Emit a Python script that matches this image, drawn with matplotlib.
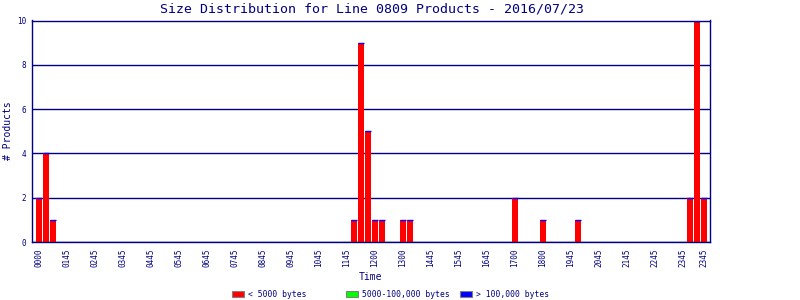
import matplotlib
matplotlib.use("Agg")
import matplotlib.pyplot as plt
from matplotlib.patches import Patch
import numpy as np

# ---- data ----
slot_index = [0, 1, 2, 45, 46, 47, 48, 49, 52, 53, 68, 72, 77, 93, 94, 95]
small_counts = [2, 4, 1, 1, 9, 5, 1, 1, 1, 1, 2, 1, 1, 2, 10, 2]   # < 5000 bytes
medium_counts = [0] * 16                                            # 5000-100,000 bytes
large_counts = [0] * 16                                             # > 100,000 bytes
n_slots = 96
tick_slots = [0, 4, 8, 12, 16, 20, 24, 28, 32, 36, 40, 44, 48, 52, 56, 60,
              64, 68, 72, 76, 80, 84, 88, 92, 95]
tick_labels = ["0000", "0145", "0245", "0345", "0445", "0545", "0645", "0745",
               "0845", "0945", "1045", "1145", "1200", "1300", "1445", "1545",
               "1645", "1700", "1800", "1945", "2045", "2145", "2245", "2345",
               "2345"]
yticks = [0, 2, 4, 6, 8, 10]
series_names = ["< 5000 bytes", "5000-100,000 bytes", "> 100,000 bytes"]
series_colors = ["#FF0000", "#00FF00", "#0000FF"]
title = "Size Distribution for Line 0809 Products - 2016/07/23"

NAVY = "#000080"
MONO = "DejaVu Sans Mono"

fig = plt.figure(figsize=(8, 3), dpi=100)
ax = fig.add_axes([32/800, 58/300, 678/800, 221.5/300])

x = np.array(slot_index)
s = np.array(small_counts, dtype=float)
m = np.array(medium_counts, dtype=float)
l = np.array(large_counts, dtype=float)
w = 0.86

ax.set_axisbelow(True)
ax.yaxis.grid(True, color=NAVY, linewidth=1.0)
ax.bar(x, s, width=w, color=series_colors[0], linewidth=0, zorder=2)
ax.bar(x, m, bottom=s, width=w, color=series_colors[1], linewidth=0, zorder=2)
ax.bar(x, l, bottom=s + m, width=w, color=series_colors[2],
       edgecolor=series_colors[2], linewidth=1.0, zorder=3)

ax.set_xlim(-1.0, n_slots - 0.14)
ax.set_ylim(0, 10)
ax.set_yticks(yticks)
ax.set_yticklabels([str(v) for v in yticks], fontsize=5.5, family=MONO, color=NAVY)
ax.set_xticks(tick_slots)
ax.set_xticklabels(tick_labels, rotation=90, fontsize=5.5, family=MONO, color=NAVY)
ax.tick_params(axis="both", length=0)
ax.tick_params(axis="x", pad=5)
ax.tick_params(axis="y", pad=4)
for sp in ax.spines.values():
    sp.set_color(NAVY)
    sp.set_linewidth(1.0)

fig.text(372/800, 1 - 9/300, title, ha="center", va="center",
         fontsize=9.5, family=MONO, color=NAVY)
fig.text(370/800, 1 - 277/300, "Time", ha="center", va="center",
         fontsize=7, family=MONO, color=NAVY)
fig.text(8/800, 1 - 131/300, "# Products", ha="center", va="center",
         rotation=90, fontsize=7, family=MONO, color=NAVY)

start = 232/800
pitch = 114/800
for i, (name, col) in enumerate(zip(series_names, series_colors)):
    h = Patch(facecolor=col, edgecolor="#808080", linewidth=0.8)
    lg = fig.legend([h], [name], loc="center left",
                    bbox_to_anchor=(start + i*pitch, 1 - 294.5/300),
                    frameon=False, borderpad=0, borderaxespad=0,
                    handlelength=1.5, handleheight=0.85, handletextpad=0.5,
                    prop={"family": MONO, "size": 5.8})
    for t in lg.get_texts():
        t.set_color(NAVY)

fig.savefig("out.png", dpi=100)
